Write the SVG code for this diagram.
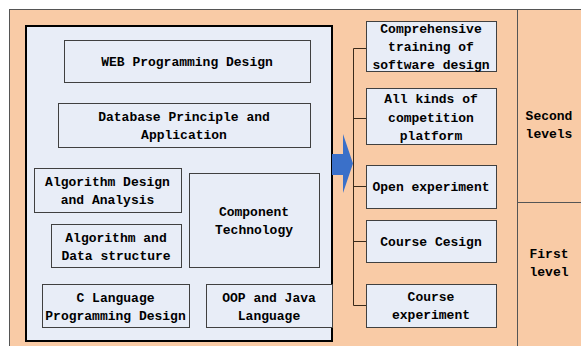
<svg xmlns="http://www.w3.org/2000/svg" width="581" height="346" viewBox="0 0 581 346">
<style>
.bx{fill:#E8EDF7;stroke:#404040;stroke-width:1}
.t{font-family:"Liberation Mono",monospace;font-weight:bold;font-size:13px;fill:#000;text-anchor:middle}
.ln{fill:none;stroke:#3a2a1a;stroke-width:1}
</style>
<rect width="581" height="346" fill="#ffffff"/>
<rect x="9.5" y="9.5" width="580" height="345" fill="#F9CBA6" stroke="#555" stroke-width="1"/>
<line x1="517.5" y1="9.5" x2="517.5" y2="346" stroke="#555" stroke-width="1"/>
<line x1="517.5" y1="202.5" x2="581" y2="202.5" stroke="#555" stroke-width="1"/>
<g id="panel">
<rect x="26" y="26" width="306" height="315" fill="#E8EDF7" stroke="#000" stroke-width="2"/>
</g>
<g id="web"><rect class="bx" x="64.5" y="40.5" width="246" height="42"/><text class="t" x="187" y="66">WEB Programming Design</text></g>
<g id="db"><rect class="bx" x="58.5" y="103.5" width="252" height="44"/><text class="t" x="184" y="120.5">Database Principle and</text><text class="t" x="184" y="138.5">Application</text></g>
<g id="algdesign"><rect class="bx" x="34.5" y="168.5" width="147" height="44"/><text class="t" x="107.5" y="185.5">Algorithm Design</text><text class="t" x="107.5" y="203.5">and Analysis</text></g>
<g id="component"><rect class="bx" x="189.5" y="173.5" width="130" height="94"/><text class="t" x="254" y="215.5">Component</text><text class="t" x="254" y="233.5">Technology</text></g>
<g id="algdata"><rect class="bx" x="51.5" y="224.5" width="130" height="43"/><text class="t" x="116" y="241.5">Algorithm and</text><text class="t" x="116" y="259.5">Data structure</text></g>
<g id="clang"><rect class="bx" x="42.5" y="284.5" width="147" height="43"/><text class="t" x="115.5" y="301.5">C Language</text><text class="t" x="115.5" y="319.5">Programming Design</text></g>
<g id="oop"><rect class="bx" x="206.5" y="284.5" width="126" height="43"/><text class="t" x="269" y="301.5">OOP and Java</text><text class="t" x="269" y="319.5">Language</text></g>
<g id="arrow"><polygon points="332,154 343,154 343,134 353,163.5 343,193 343,175 332,175" fill="#3A70C9"/></g>
<g id="connectors">
<path class="ln" d="M353.5,48.5 V305.5"/>
<path class="ln" d="M353.5,48.5 H366"/>
<path class="ln" d="M353.5,118.5 H366"/>
<path class="ln" d="M353.5,186.5 H366"/>
<path class="ln" d="M353.5,241.5 H366"/>
<path class="ln" d="M353.5,305.5 H366"/>
</g>
<g id="comp"><rect class="bx" x="366.5" y="21.5" width="130" height="50"/><text class="t" x="431" y="32.5">Comprehensive</text><text class="t" x="431" y="51">training of</text><text class="t" x="431" y="68.5">software design</text></g>
<g id="allkinds"><rect class="bx" x="366.5" y="88.5" width="130" height="56"/><text class="t" x="431" y="102.5">All kinds of</text><text class="t" x="431" y="121.5">competition</text><text class="t" x="431" y="139.5">platform</text></g>
<g id="open"><rect class="bx" x="366.5" y="165.5" width="130" height="43"/><text class="t" x="431" y="191">Open experiment</text></g>
<g id="cdesign"><rect class="bx" x="366.5" y="220.5" width="130" height="42"/><text class="t" x="431" y="245.5">Course Cesign</text></g>
<g id="cexp"><rect class="bx" x="366.5" y="284.5" width="130" height="43"/><text class="t" x="431" y="300.5">Course</text><text class="t" x="431" y="318.5">experiment</text></g>
<g id="second"><text class="t" x="549" y="119.5">Second</text><text class="t" x="549" y="137.5">levels</text></g>
<g id="first"><text class="t" x="549" y="257.5">First</text><text class="t" x="549" y="275.5">level</text></g>
</svg>
